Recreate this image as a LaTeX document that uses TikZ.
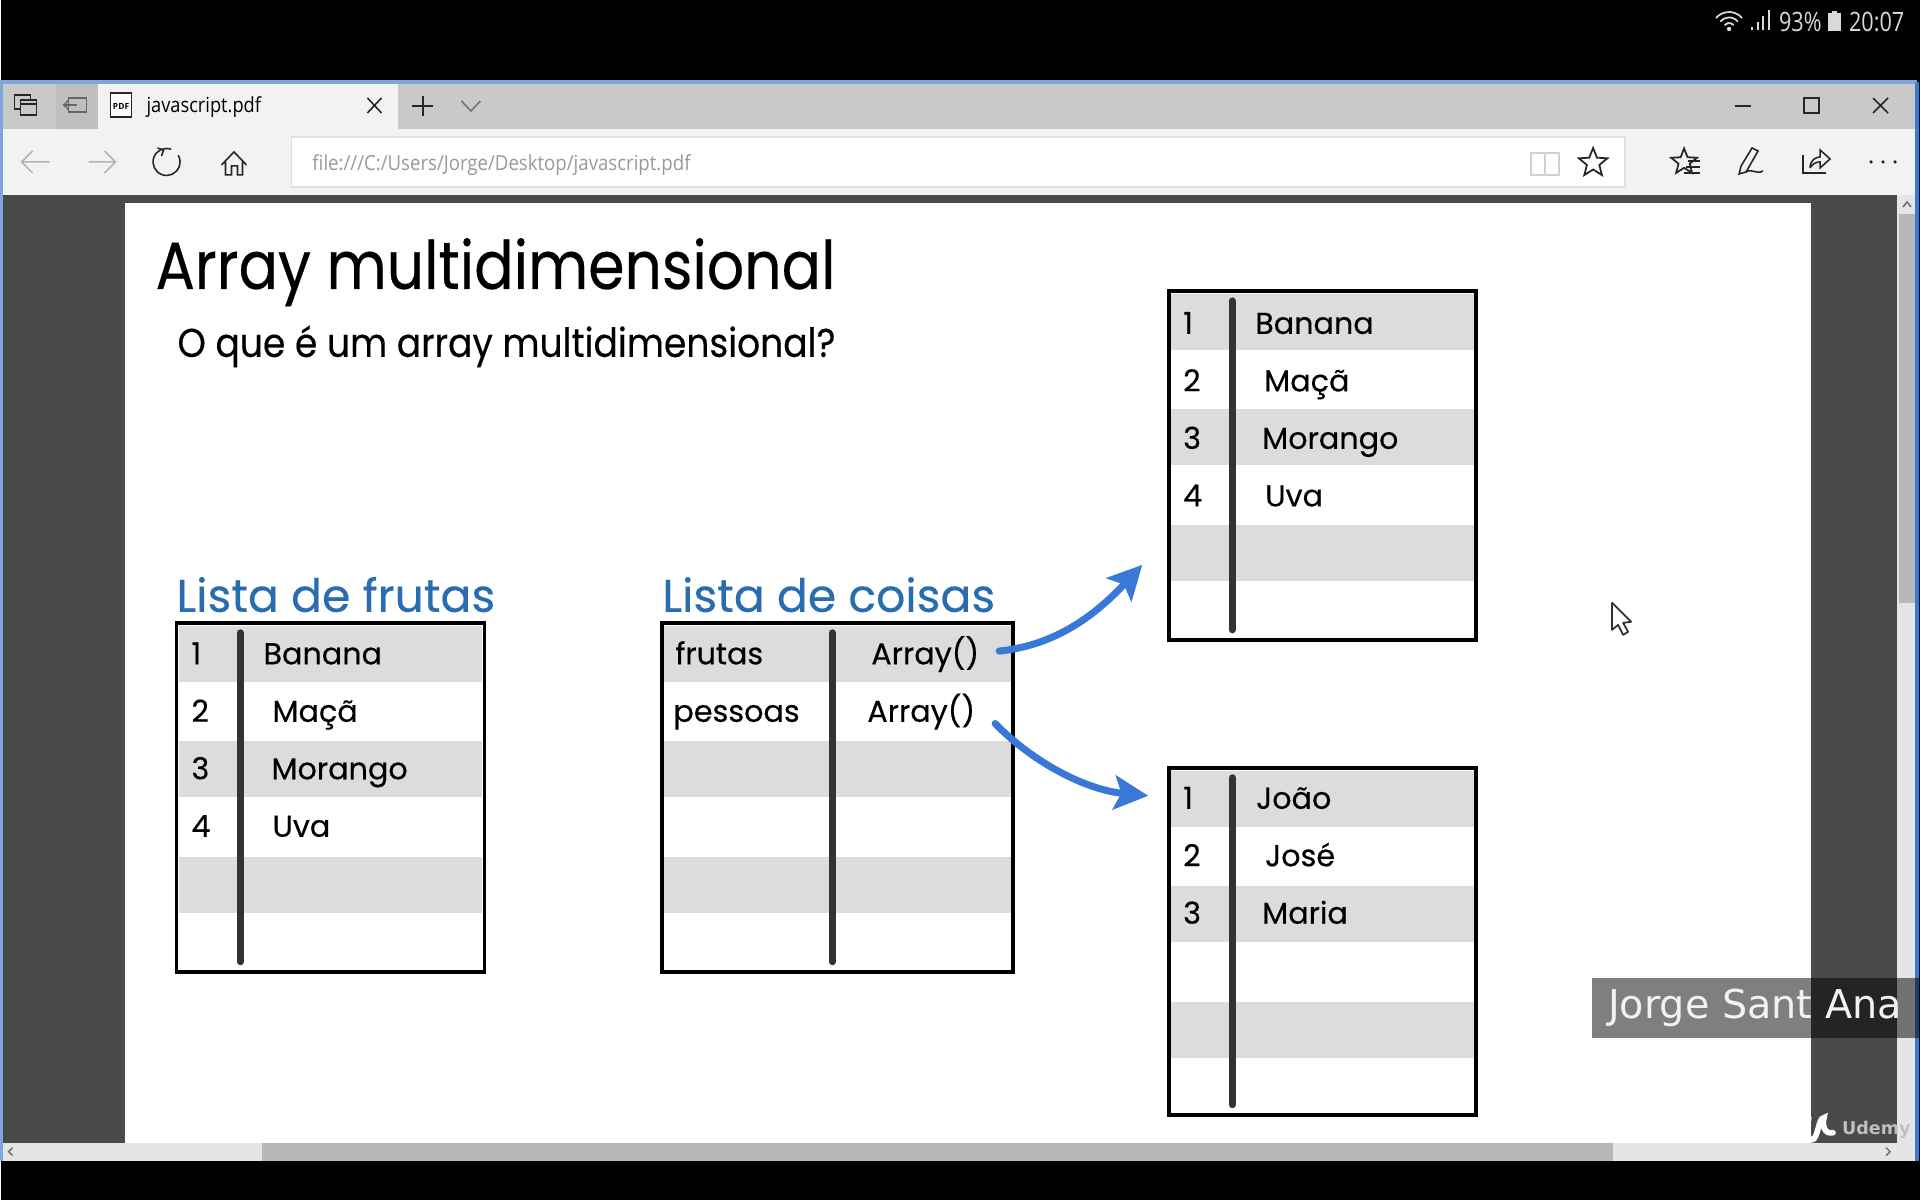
\documentclass[tikz,border=0pt]{standalone}
\usepackage{fontspec}
\setmainfont{Poppins}[FakeBold=0.35]
\newfontfamily\uifont{Open Sans}
\newfontfamily\capfont{DejaVu Sans}
\usetikzlibrary{arrows.meta, positioning, shapes.geometric, calc}
\definecolor{chrome}{HTML}{C9C9C9}
\definecolor{toolbar}{HTML}{F2F2F2}
\definecolor{pagedark}{HTML}{4A4A4A}
\definecolor{bandgrey}{HTML}{DCDCDC}
\definecolor{headblue}{HTML}{2A6CB0}
\definecolor{arrowblue}{HTML}{3A78D8}
\definecolor{edgeblue}{HTML}{7FA6DC}

\begin{document}
\begin{tikzpicture}[
    x=0.01cm, y=-0.01cm,
    every node/.style={inner sep=0pt, outer sep=0pt},
    titletxt/.style={anchor=base west, font=\fontsize{19}{19}\selectfont, xscale=0.875, transform shape},
    subtxt/.style={anchor=base west, font=\fontsize{11.4}{12}\selectfont, xscale=0.9, transform shape},
    headtxt/.style={anchor=base west, font=\fontsize{13}{13}\selectfont, text=headblue, transform shape},
    cell/.style={anchor=base west, font=\fontsize{8.6}{9}\selectfont, transform shape},
    arrcell/.style={cell, inner xsep=0.2cm},
    uitxt/.style={anchor=west, font=\uifont\fontsize{5.9}{6}\selectfont, xscale=0.88, transform shape},
    statustxt/.style={anchor=west, font=\uifont\fontsize{7.6}{8}\selectfont, text=black!15, xscale=0.81, transform shape},
    tframe/.style={draw=black, line width=1.1pt, anchor=north west},
    bar/.style={draw=black!80, line width=2pt, line cap=round},
    ico/.style={draw=black!85, line width=0.45pt},
    icofaint/.style={draw=black!30, line width=0.45pt},
    curved/.style={-{Stealth[length=0.34cm, width=0.34cm, inset=0.07cm]}, arrowblue, line width=2pt, line cap=round},
]
    % screen, window and page behind the slide
    \fill[black] (0,0) rectangle (1920,1200);
    \fill[chrome] (0,81) rectangle (1917,129);
    \fill[toolbar] (0,129) rectangle (1917,195);
    \fill[toolbar] (97,84) rectangle (398,129);
    \fill[black!25] (55,84) rectangle (97,129);
    \fill[pagedark] (0,195) rectangle (1897,1143);
    \fill[white] (124,203) rectangle (1811,1143);
    \fill[black!10] (1897,195) rectangle (1917,1161);
    \fill[black!10] (0,1143) rectangle (1917,1161);
    \fill[black!28] (261,1143) rectangle (1613,1161);
    \fill[black!28] (1899,214) rectangle (1915,603);
    \draw[edgeblue, line width=0.9pt] (1,1161) -- (1,82) -- (1917,82);
    \draw[arrowblue, line width=0.9pt] (1917,82) -- (1917,1161);
    \draw[ico, black!55] (1903,207) -- (1907,202) -- (1911,207);
    \draw[ico, black!55] (12,1148) -- (8,1152) -- (12,1156);
    \draw[ico, black!55] (1886,1148) -- (1890,1152) -- (1886,1156);

    % status bar
    \coordinate (wifidot) at (1729,29);
    \fill[black!15] (wifidot) circle[radius=0.022cm];
    \foreach \rad in {0.06,0.115,0.17} {
        \draw[black!15, line width=0.5pt] ([shift={(40:\rad cm)}]wifidot) arc[start angle=40, end angle=140, radius=\rad cm];
    }
    \draw[black!15, line width=0.6pt] (1752,30) -- (1752,27) (1758,30) -- (1758,22) (1763,30) -- (1763,16) (1769,30) -- (1769,10);
    \node[statustxt] (pct) at (1779,22) {93\%};
    \fill[black!15] (1828,13) rectangle (1841,31);
    \fill[black!15] (1832,11) rectangle (1837,13);
    \node[statustxt] (clock) at (1849,22) {20:07};

    % tab bar
    \draw[ico] (14,95) rectangle (30,109);
    \draw[ico, fill=chrome] (20,100) rectangle (36,115);
    \draw[ico] (20,104) -- (36,104);
    \draw[ico, black!60] (68,98) rectangle (86,112);
    \draw[ico, black!60, <-, >=to] (62,105) -- (76,105);
    \draw[ico, fill=white] (110,93) rectangle (131,117);
    \node[font=\uifont\bfseries\fontsize{2.4}{3}\selectfont] (pdfmark) at (120.5,107) {PDF};
    \node[uitxt] (tabname) at (146,107) {javascript.pdf};
    \draw[ico] (367,98) -- (381,113) (381,98) -- (367,113);
    \draw[ico] (412,106) -- (433,106) (422.5,96) -- (422.5,116);
    \draw[ico, black!55] (461,101) -- (470.5,111) -- (480,101);
    \draw[ico] (1735,106) -- (1751,106);
    \draw[ico] (1804,98) rectangle (1819,113);
    \draw[ico] (1873,98) -- (1888,113) (1888,98) -- (1873,113);

    % toolbar
    \draw[icofaint] (49,162) -- (21,162) (32,151) -- (21,162) -- (32,173);
    \draw[icofaint] (88,162) -- (115,162) (104,151) -- (115,162) -- (104,173);
    \coordinate (reload) at (166,162);
    \draw[ico] ([shift={(70:0.135cm)}]reload) arc[start angle=70, delta angle=320, radius=0.135cm];
    \draw[ico] (157,148) -- (163,150) -- (161,156);
    \draw[ico] (221,165) -- (233.5,152) -- (246,165) (225,162) -- (225,175) -- (231,175) -- (231,166) -- (237,166) -- (237,175) -- (242,175) -- (242,162);
    \draw[fill=white, draw=black!12, line width=0.5pt] (291,137) rectangle (1625,187);
    \node[uitxt, xscale=1.02, text=black!40] (urlname) at (312,165) {file:///C:/Users/Jorge/Desktop/javascript.pdf};
    \draw[icofaint, black!18] (1531,153) rectangle (1545,175) (1545,153) rectangle (1559,175);
    \node[draw=black!85, line width=0.5pt, star, star points=5, star point ratio=2.3, minimum size=0.3cm] (favstar) at (1593,163) {};
    \node[draw=black!85, line width=0.5pt, star, star points=5, star point ratio=2.3, minimum size=0.27cm] (hubstar) at (1684,162) {};
    \draw[ico] (1688,161) -- (1700,161) (1686,167) -- (1700,167) (1684,173) -- (1700,173);
    \draw[ico] (1752,148) -- (1758,151) -- (1746,172) -- (1739,174) -- (1741,166) -- cycle;
    \draw[ico] (1746,172) .. controls (1752,168) and (1756,175) .. (1763,171);
    \draw[ico] (1803,155) -- (1803,173) -- (1826,173);
    \draw[ico] (1810,168) .. controls (1810,160) and (1816,157) .. (1820,157) -- (1820,150) -- (1830,159) -- (1820,168) -- (1820,162) .. controls (1816,162) and (1812,164) .. (1810,168);
    \foreach \dotx in {1871,1883,1895} {
        \fill[black!85] (\dotx,162) circle[radius=0.018cm];
    }

    % slide text
    \node[titletxt] (title) at (155,289) {Array multidimensional};
    \node[subtxt] (question) at (177,357) {O que é um array multidimensional?};
    \node[headtxt] (headfrutas) at (176,612) {Lista de frutas};
    \node[headtxt] (headcoisas) at (662,612) {Lista de coisas};

    % grey bands, outer frame and middle bar of one list
    \newcommand{\listbox}[6]{%
        \foreach \rowi in {0,1,2} {
            \fill[bandgrey] ({#2+2},{#3+3+115.5*\rowi}) rectangle ({#2+#4-2},{#3+59+115.5*\rowi});
        }
        \node[tframe, minimum width=#4*0.01cm, minimum height=#5*0.01cm] (#1) at (#2,#3) {};
        \draw[bar] (#6,{#3+10}) -- (#6,{#3+#5-10});
    }

    \listbox{frutas}{176}{623}{308}{349}{240}
    \listbox{coisas}{662}{623}{351}{349}{832}
    \listbox{frutasb}{1169}{291}{307}{349}{1232}
    \listbox{pessoasb}{1169}{768}{307}{347}{1232}

    \node[cell] (frutasn1) at (191,664.5) {1};
    \node[cell] (frutasn2) at (191,722) {2};
    \node[cell] (frutasn3) at (191,779.5) {3};
    \node[cell] (frutasn4) at (191,837) {4};
    \node[cell] (frutasv1) at (263,664.5) {Banana};
    \node[cell] (frutasv2) at (272,722) {Maçã};
    \node[cell] (frutasv3) at (271,779.5) {Morango};
    \node[cell] (frutasv4) at (272,837) {Uva};

    \node[cell] (coisask1) at (675,664.5) {frutas};
    \node[cell] (coisask2) at (673,722) {pessoas};
    \node[arrcell] (arrfrutas) at (851,664.5) {Array()};
    \node[arrcell] (arrpessoas) at (847,722) {Array()};

    \node[cell] (frutasbn1) at (1183,334) {1};
    \node[cell] (frutasbn2) at (1183,391.5) {2};
    \node[cell] (frutasbn3) at (1183,449) {3};
    \node[cell] (frutasbn4) at (1183,506.5) {4};
    \node[cell] (frutasbv1) at (1255,334) {Banana};
    \node[cell] (frutasbv2) at (1264,391.5) {Maçã};
    \node[cell] (frutasbv3) at (1262,449) {Morango};
    \node[cell] (frutasbv4) at (1265,506.5) {Uva};

    \node[cell] (pessoasbn1) at (1183,809) {1};
    \node[cell] (pessoasbn2) at (1183,866.5) {2};
    \node[cell] (pessoasbn3) at (1183,924) {3};
    \node[cell] (pessoasbv1) at (1256,809) {João};
    \node[cell] (pessoasbv2) at (1265,866.5) {José};
    \node[cell] (pessoasbv3) at (1262,924) {Maria};

    % arrows to the two inner lists
    \coordinate (tipfrutas) at (1142,565);
    \coordinate (tippessoas) at (1148,796);
    \coordinate (tailpessoas) at ($(arrpessoas.east)+(0,12)$);
    \draw[curved] ($(arrfrutas.east)+(0,-3)$) .. controls (1060,645) and (1100,610) .. (tipfrutas);
    \draw[curved] (tailpessoas) .. controls (1032,762) and (1085,790) .. (tippessoas);

    % pointer
    \draw[fill=white, draw=black!80, line width=0.5pt, line join=round] (1612,603) -- (1612,630) -- (1618,625) -- (1623,635) -- (1628,632) -- (1623,623) -- (1631,622) -- cycle;

    % caption and watermark
    \fill[black, opacity=0.5] (1592,978) rectangle (1920,1038);
    \node[anchor=base west, font=\capfont\fontsize{11.3}{12}\selectfont, text=black!5] (caption) at (1608,1019) {Jorge Sant Ana};
    \draw[white, line width=1.6pt, line cap=round] (1797,1132) .. controls (1808,1128) and (1810,1118) .. (1808,1116) .. controls (1806,1125) and (1806,1140) .. (1812,1140) .. controls (1818,1140) and (1818,1118) .. (1824,1118) .. controls (1822,1125) and (1824,1135) .. (1833,1133);
    \node[anchor=base west, font=\capfont\bfseries\fontsize{5}{6}\selectfont, text=black!25] (udemy) at (1842,1135) {Udemy};
\end{tikzpicture}
\end{document}
